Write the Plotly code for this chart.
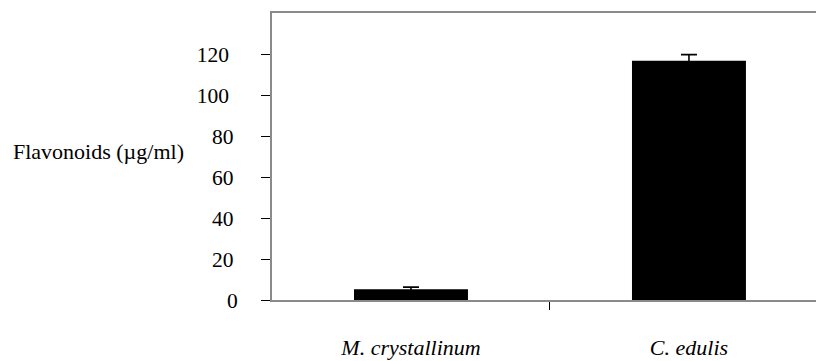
import plotly.graph_objects as go

categories = ["M. crystallinum", "C. edulis"]
values = [5.3, 116.7]
errors = [1.0, 3.0]
y_ticks = [0, 20, 40, 60, 80, 100, 120]
divider_ticks = [0.5]

x_pos = list(range(len(categories)))
axis_grey = "#8a8a8a"
font_fam = "Liberation Serif, Times New Roman, serif"
x_range = [-0.5, 1.457]

# the source's tick labels drift right as they get shorter; mimic with thin spaces
def pad_label(v):
    s = str(v)
    return s + "\u2009" * (len(s) - 1)

fig = go.Figure()
fig.add_trace(go.Bar(
    x=x_pos, y=values, width=0.41,
    marker=dict(color="black", line=dict(width=0)),
    error_y=dict(type="data", array=errors, visible=True, color="black", thickness=1.6, width=8),
))
# invisible helper trace so the category-label axis is drawn
fig.add_trace(go.Scatter(
    x=x_pos, y=values, xaxis="x2", mode="markers",
    marker=dict(opacity=0), hoverinfo="skip", showlegend=False,
))

fig.update_layout(
    width=818, height=361,
    margin=dict(l=272, r=2, t=13, b=61, autoexpand=False),
    paper_bgcolor="white", plot_bgcolor="white",
    showlegend=False,
    font=dict(family=font_fam, size=22, color="black"),
    xaxis=dict(
        range=x_range, automargin=False,
        tickvals=divider_ticks,
        ticktext=[""] * len(divider_ticks),
        ticks="outside", ticklen=8, tickcolor="black", tickwidth=1,
        showgrid=False, zeroline=False,
        showline=True, linecolor=axis_grey, linewidth=2, mirror=True,
    ),
    xaxis2=dict(
        range=x_range, automargin=False,
        overlaying="x", anchor="y", side="bottom",
        tickvals=x_pos,
        ticktext=["<i>%s</i>" % c for c in categories],
        ticks="", showgrid=False, zeroline=False, showline=False,
        ticklabelstandoff=32,
        tickfont=dict(size=22),
    ),
    yaxis=dict(
        range=[0, 140], automargin=False,
        tickvals=y_ticks,
        ticktext=[pad_label(v) for v in y_ticks],
        ticks="outside", ticklen=9, tickcolor="black", tickwidth=1,
        showgrid=False, zeroline=False,
        showline=True, linecolor=axis_grey, linewidth=2,
        ticklabelstandoff=19,
        tickfont=dict(size=21.5),
    ),
    annotations=[dict(
        text="Flavonoids (µg/ml)", xref="paper", yref="paper",
        x=-0.48, y=0.516, xanchor="left", yanchor="middle",
        showarrow=False, font=dict(size=22),
    )],
)

fig.write_html("out.html")
